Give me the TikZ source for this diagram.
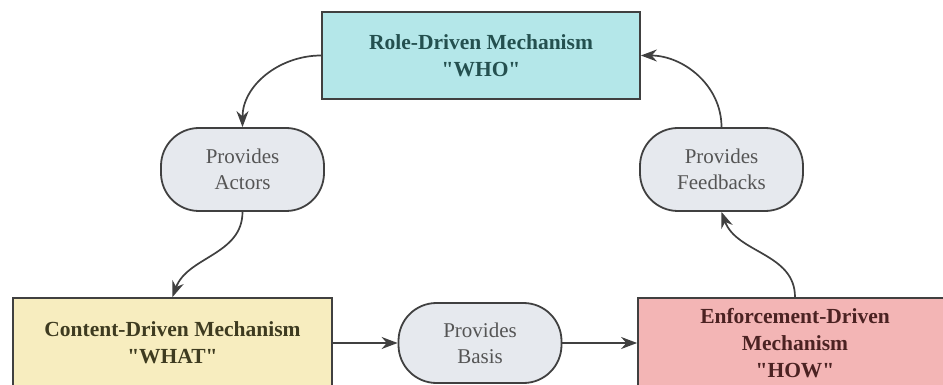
\documentclass[tikz,border=0pt]{standalone}
\usepackage{fontspec}
\setmainfont{Liberation Serif}
\usetikzlibrary{arrows.meta}
\definecolor{edgegray}{HTML}{404040}
\definecolor{whofill}{HTML}{B4E7E9}
\definecolor{whotext}{HTML}{24504F}
\definecolor{whatfill}{HTML}{F7EDBF}
\definecolor{whattext}{HTML}{3E3B20}
\definecolor{howfill}{HTML}{F3B5B5}
\definecolor{howtext}{HTML}{4B2222}
\definecolor{provfill}{HTML}{E6E9EE}
\definecolor{provtext}{HTML}{555555}
\newcommand{\qq}{\textquotedbl}
\begin{document}
\begin{tikzpicture}[x=1pt,y=-1pt,
  mainbox/.style={draw=edgegray, line width=1.8pt, align=center,
    font=\fontsize{21.5}{27}\selectfont\bfseries, inner sep=0pt},
  provbox/.style={draw=edgegray, line width=1.8pt, align=center, fill=provfill,
    text=provtext, rounded corners=38pt, minimum width=163pt, minimum height=83pt,
    font=\fontsize{21}{26}\selectfont, inner sep=0pt},
  flow/.style={draw=edgegray, line width=1.7pt, -{Stealth[length=16pt,width=12pt]}}]
\useasboundingbox (0,0) rectangle (943,385);
\fill[white] (0,0) rectangle (943,385);
\begin{scope}
\clip (0,0) rectangle (943,385);
\node[mainbox, fill=whofill, text=whotext, minimum width=318pt, minimum height=87pt]
  (who) at (481,55.5) {Role-Driven Mechanism\\\qq WHO\qq};
\node[mainbox, fill=whatfill, text=whattext, minimum width=319pt, minimum height=90pt]
  (what) at (172.5,343) {Content-Driven Mechanism\\\qq WHAT\qq};
\node[mainbox, fill=howfill, text=howtext, minimum width=314pt, minimum height=90pt]
  (how) at (795,343) {Enforcement-Driven\\Mechanism\\\qq HOW\qq};
\node[provbox] (actors) at (242.5,169.5) {Provides\\Actors};
\node[provbox] (feedbacks) at (721.5,169.5) {Provides\\Feedbacks};
\node[provbox, minimum height=80pt] (basis) at (480,343) {Provides\\Basis};
\draw[flow] (who.west) to[out=180,in=90] (actors.north);
\draw[flow] (actors.south) to[out=-90,in=70] (what.north);
\draw[flow] (what.east) -- (basis.west);
\draw[flow] (basis.east) -- (how.west);
\draw[flow] (how.north) to[out=90,in=-70] (feedbacks.south);
\draw[flow] (feedbacks.north) to[out=90,in=0] (who.east);
\end{scope}
\end{tikzpicture}
\end{document}
